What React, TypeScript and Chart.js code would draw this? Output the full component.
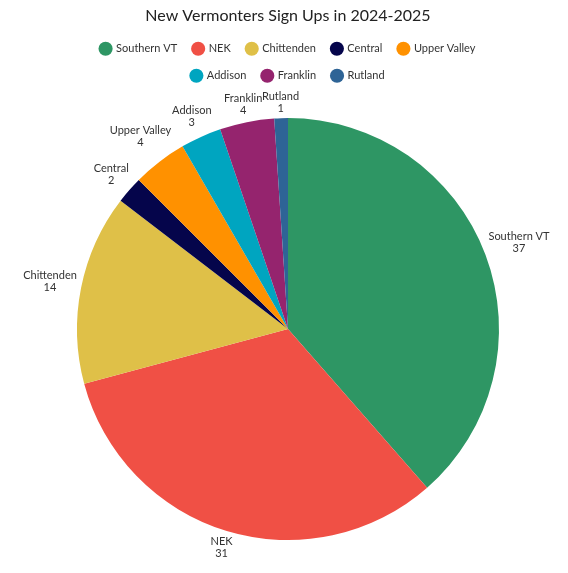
import React, { useEffect, useRef } from 'react';
import { Chart, registerables } from 'chart.js';

Chart.register(...registerables);

const regions = ['Southern VT', 'NEK', 'Chittenden', 'Central', 'Upper Valley', 'Addison', 'Franklin', 'Rutland'];
const signUps = [37, 31, 14, 2, 4, 3, 4, 1];
const sliceColors = ['#2e9664', '#f05045', '#dfc048', '#05054b', '#ff9100', '#00a5c0', '#95246e', '#2e6496'];

// draws "name / value" outside each slice, like datalabels anchor end
const outLabels = {
  id: 'outLabels',
  afterDatasetsDraw(chart: any) {
    const { ctx } = chart;
    const meta = chart.getDatasetMeta(0);
    const lineH = 12;
    ctx.save();
    ctx.font = '11px Lato';
    ctx.fillStyle = '#333';
    ctx.textAlign = 'center';
    ctx.textBaseline = 'middle';
    meta.data.forEach((arc: any, i: number) => {
      const { x, y, startAngle, endAngle, outerRadius } = arc.getProps(['x', 'y', 'startAngle', 'endAngle', 'outerRadius'], true);
      const mid = (startAngle + endAngle) / 2;
      const name = regions[i];
      const val = String(signUps[i]);
      const w = Math.max(ctx.measureText(name).width, ctx.measureText(val).width);
      const h = lineH * 2;
      const c = Math.cos(mid);
      const s = Math.sin(mid);
      const r = outerRadius + 3 + Math.abs(c) * w / 2 + Math.abs(s) * h / 2;
      const cx = x + c * r;
      const cy = y + s * r;
      ctx.fillText(name, cx, cy - lineH / 2);
      ctx.fillText(val, cx, cy + lineH / 2);
    });
    ctx.restore();
  }
};

const App = () => {
  const canvasRef = useRef<HTMLCanvasElement>(null);

  useEffect(() => {
    Chart.defaults.font.family = 'Lato';
    const chart = new Chart(canvasRef.current as HTMLCanvasElement, {
      type: 'pie',
      data: {
        labels: regions,
        datasets: [{
          data: signUps,
          backgroundColor: sliceColors,
          borderWidth: 0
        }]
      },
      options: {
        animation: false,
        responsive: true,
        maintainAspectRatio: false,
        layout: { padding: { left: 69, right: 69, top: 0, bottom: 6 } },
        plugins: {
          title: {
            display: true,
            text: 'New Vermonters Sign Ups in 2024-2025',
            color: '#222',
            font: { size: 16, weight: 'normal' },
            padding: { top: 6, bottom: 2 }
          },
          legend: {
            position: 'top',
            labels: {
              usePointStyle: true,
              pointStyle: 'circle',
              boxWidth: 10,
              boxHeight: 10,
              padding: 16,
              color: '#333',
              font: { size: 11 }
            }
          },
          tooltip: { enabled: false }
        }
      },
      plugins: [outLabels]
    });

    return () => {
      chart.destroy();
    };
  }, []);

  return (
    <div style={{ position: 'absolute', left: 8, top: 0, width: 560, height: 573 }}>
      <canvas ref={canvasRef} />
    </div>
  );
};

export default App;
